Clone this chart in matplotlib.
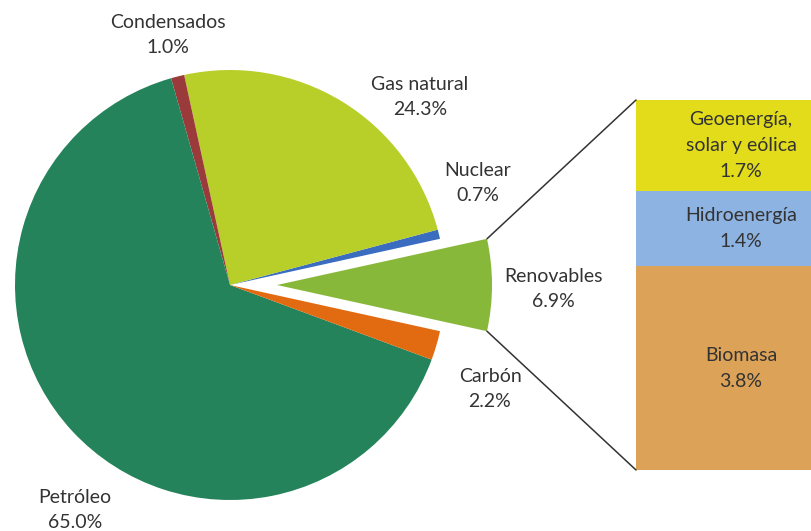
import matplotlib
matplotlib.use("Agg")
import matplotlib.pyplot as plt
from matplotlib.patches import ConnectionPatch
import numpy as np

# ── Datos ──────────────────────────────────────────────────────────────────────
PIE_LABELS = ["Renovables", "Nuclear", "Gas natural", "Condensados", "Petróleo", "Carbón"]
PIE_VALUES = [6.9, 0.7, 24.3, 1.0, 65.0, 2.2]
PIE_COLORS = ["#88b83a", "#3a6cc0", "#b8cf2a", "#9b3a3a", "#24835a", "#e26a10"]

BAR_LABELS = ["Biomasa", "Hidroenergía", "Geoenergía,\nsolar y eólica"]
BAR_VALUES = [3.8, 1.4, 1.7]
BAR_COLORS = ["#dca258", "#8db3e2", "#e2dc1a"]

W, H = 811, 531
TXT = "#333333"
FS = 14
plt.rcParams["font.family"] = ["Lato", "DejaVu Sans"]

fig = plt.figure(figsize=(W / 100, H / 100), dpi=100)
ax = fig.add_axes([0, 0, 1, 1])

total = sum(PIE_VALUES)
start = -PIE_VALUES[0] / total * 360 / 2
radius = 215
explode = [47] + [0] * (len(PIE_VALUES) - 1)
wedges, _ = ax.pie(PIE_VALUES, colors=PIE_COLORS, startangle=start, counterclock=True,
                   radius=radius, center=(230, H - 285), explode=explode,
                   wedgeprops=dict(linewidth=0))
ax.set_xlim(0, W)
ax.set_ylim(0, H)
ax.set_aspect("auto")
ax.axis("off")

# etiquetas del pie (px desde arriba)
pie_txt = {
    "Condensados": (168, 35),
    "Gas natural": (420, 97),
    "Nuclear": (478, 183),
    "Renovables": (553, 289),
    "Carbón": (490, 389),
    "Petróleo": (75, 510),
}
for lab, val in zip(PIE_LABELS, PIE_VALUES):
    x, y = pie_txt[lab]
    ax.text(x, H - y, f"{lab}\n{val:.1f}%", ha="center", va="center",
            fontsize=FS, color=TXT, linespacing=1.55)

# ── Barra de renovables ────────────────────────────────────────────────────────
bx0, bx1, by0, by1 = 636, 811, 100, 470
ax2 = fig.add_axes([bx0 / W, (H - by1) / H, (bx1 - bx0) / W, (by1 - by0) / H])
bar_total = sum(BAR_VALUES)
bottom = 0
for lab, val, col in zip(BAR_LABELS, BAR_VALUES, BAR_COLORS):
    ax2.bar(0, val, bottom=bottom, width=1.2, color=col, linewidth=0)
    ax2.text(0.1, bottom + val / 2, f"{lab}\n{val:.1f}%", ha="center", va="center",
             fontsize=FS, color=TXT, linespacing=1.65)
    bottom += val
ax2.set_xlim(-0.5, 0.5)
ax2.set_ylim(0, bar_total)
ax2.axis("off")

# ── Líneas de conexión ─────────────────────────────────────────────────────────
w = wedges[0]
cx, cy = w.center
for ang, yb in [(w.theta2, bar_total), (w.theta1, 0)]:
    px = cx + w.r * np.cos(np.radians(ang))
    py = cy + w.r * np.sin(np.radians(ang))
    con = ConnectionPatch(xyA=(px, py), coordsA=ax.transData,
                          xyB=(-0.5, yb), coordsB=ax2.transData,
                          color="#333333", linewidth=1.1)
    fig.add_artist(con)

fig.savefig("out.png", dpi=100)
